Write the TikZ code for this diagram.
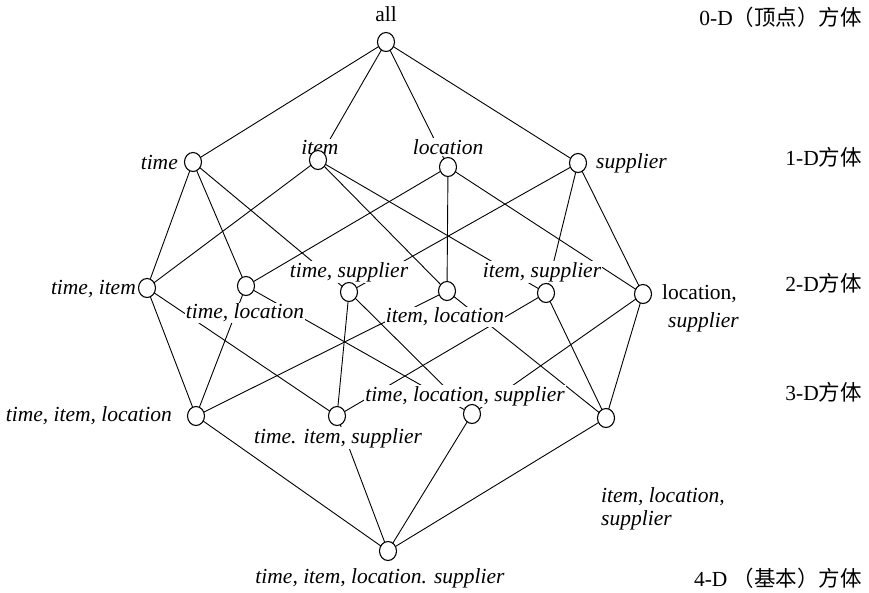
\documentclass[tikz,border=0pt]{standalone}
\usepackage{fontspec}
\setmainfont{Liberation Serif}
\newfontfamily\cjk{Noto Sans CJK SC}
\usetikzlibrary{shapes.geometric}
\begin{document}
\begin{tikzpicture}[x=1pt,y=-1pt,
  vtx/.style={ellipse,draw,line width=1.1pt,minimum width=17pt,minimum height=19pt,inner sep=0pt,fill=white},
  edge/.style={line width=0.9pt},
  lab/.style={font=\fontsize{21.5}{24}\selectfont\itshape,inner sep=1pt,fill=white},
  rlab/.style={font=\fontsize{21.5}{24}\selectfont,inner sep=1pt,fill=white},
  lvl/.style={font=\fontsize{21.5}{24}\selectfont,anchor=east,inner sep=0pt}]
\useasboundingbox (0,0) rectangle (869,592);
% vertex coordinates
\coordinate (pa) at (386,42);
\coordinate (pt) at (193,162);
\coordinate (pi) at (318,160);
\coordinate (pl) at (448,167);
\coordinate (ps) at (578,163);
\coordinate (pti) at (147,288);
\coordinate (ptl) at (246,286);
\coordinate (pts) at (349,292);
\coordinate (pil) at (447,291);
\coordinate (pis) at (546,293);
\coordinate (pls) at (643,294);
\coordinate (ptil) at (196,416);
\coordinate (ptis) at (337,416);
\coordinate (ptls) at (472,414);
\coordinate (pils) at (606,418);
\coordinate (pb) at (388,551);
% edges
\foreach \u/\v in {pa/pt,pa/pi,pa/pl,pa/ps,
  pt/pti,pt/ptl,pt/pts,pi/pti,pi/pil,pi/pis,pl/ptl,pl/pil,pl/pls,ps/pts,ps/pis,ps/pls,
  pti/ptil,pti/ptis,ptl/ptil,ptl/ptls,pts/ptis,pts/ptls,pil/ptil,pil/pils,pis/ptis,pis/pils,pls/ptls,pls/pils,
  ptil/pb,ptis/pb,ptls/pb,pils/pb}
  \draw[edge] (\u) -- (\v);
% labels
\node[rlab] (la) at (386,14) {all};
\node[lab,anchor=east] (lt) at (179,162) {time};
\node[lab] (li) at (320,147) {item};
\node[lab] (ll) at (448,147) {location};
\node[lab,anchor=west] (ls) at (595,163) {supplier};
\node[lab,anchor=east] (lti) at (137,289) {time, item};
\node[lab] (ltl) at (245,313) {time, location};
\node[lab] (lts) at (349,272) {time, supplier};
\node[lab] (lil) at (445,317) {item, location};
\node[lab] (lis) at (542,272) {item, supplier};
\node[rlab,anchor=west] (lls1) at (661,294) {location,};
\node[lab,anchor=west] (lls2) at (667,322) {supplier};
\node[lab,anchor=east] (ltil) at (173,416) {time, item, location};
\node[lab] (ltis) at (338,438) {time. item, supplier};
\node[lab] (ltls) at (465,396) {time, location, supplier};
\node[lab,anchor=west] (lils1) at (600,497) {item, location,};
\node[lab,anchor=west] (lils2) at (600,520) {supplier};
\node[lab] (lb) at (380,578) {time, item, location. supplier};
% vertices
\foreach \p in {pa,pt,pi,pl,ps,pti,ptl,pts,pil,pis,pls,ptil,ptis,ptls,pils,pb}
  \node[vtx] (v\p) at (\p) {};
% level labels
\node[lvl] (d0) at (862,17) {0-D{\cjk（顶点）方体}};
\node[lvl] (d1) at (862,157) {1-D{\cjk 方体}};
\node[lvl] (d2) at (862,283) {2-D{\cjk 方体}};
\node[lvl] (d3) at (862,392) {3-D{\cjk 方体}};
\node[lvl] (d4) at (862,578) {4-D {\cjk（基本）方体}};
\end{tikzpicture}
\end{document}
